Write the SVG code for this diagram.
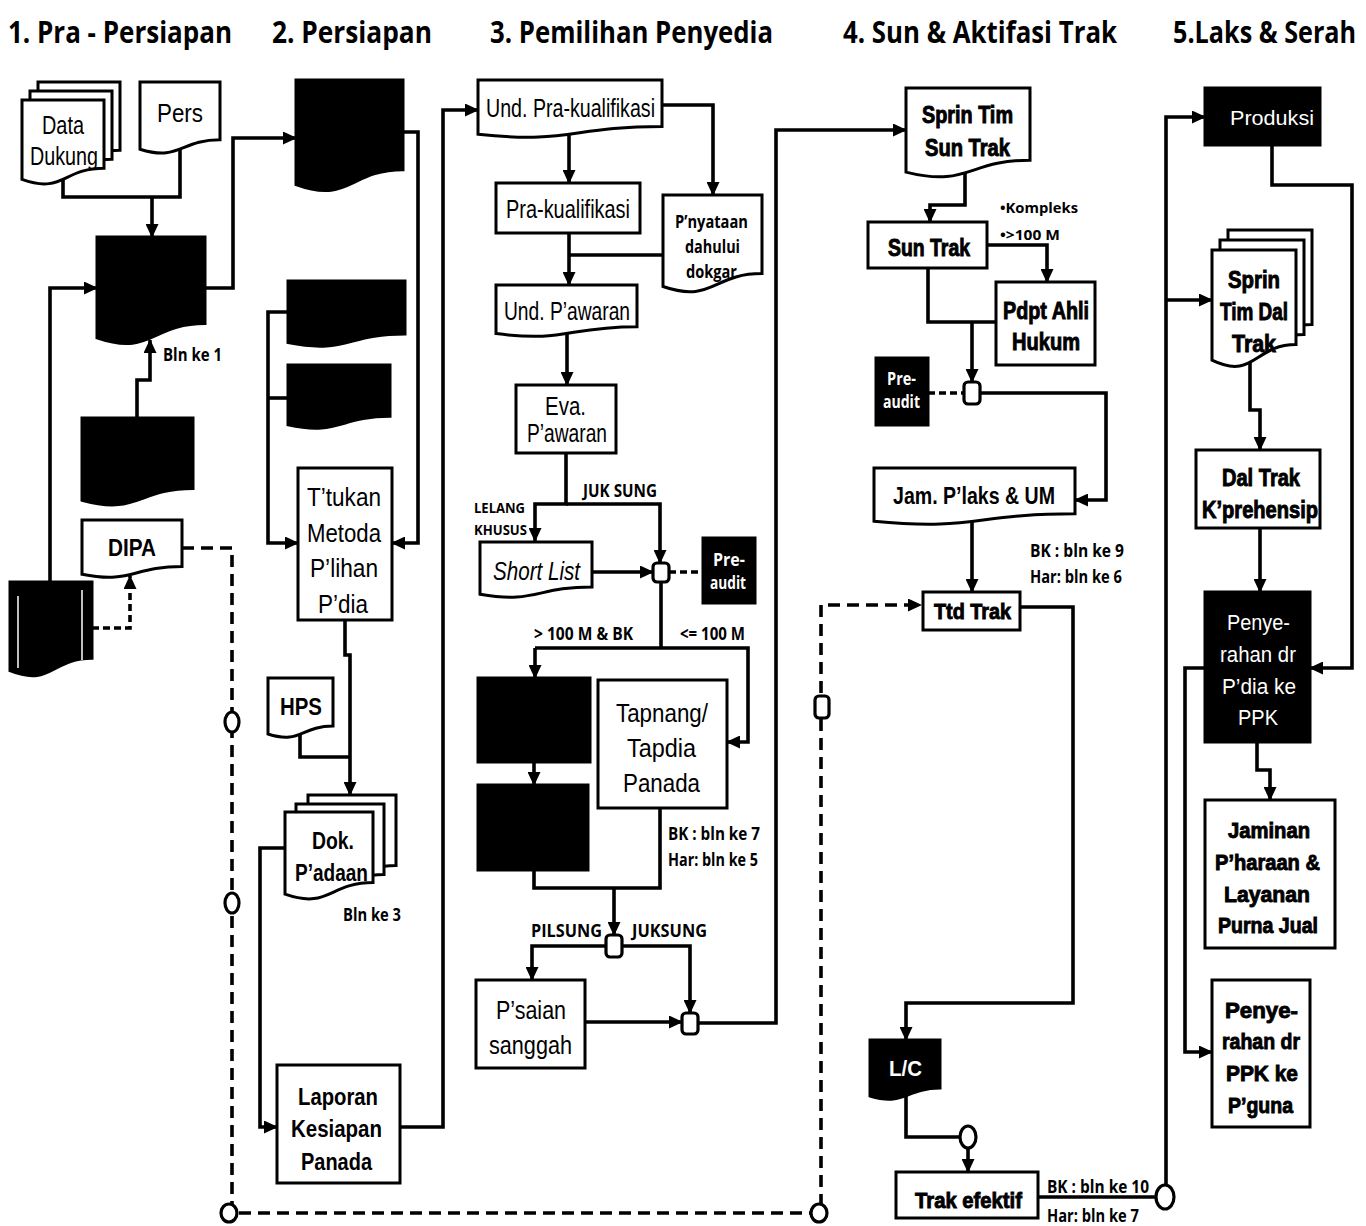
<svg xmlns="http://www.w3.org/2000/svg" width="1366" height="1226" viewBox="0 0 1366 1226">
<style>
  .nd { fill: #fff; stroke: #000; stroke-width: 3; }
  .bk { fill: #000; stroke: #000; stroke-width: 3; }
  .jn { fill: #fff; stroke: #000; stroke-width: 3.2; }
  .ln { fill: none; stroke: #000; stroke-width: 3.6; stroke-linejoin: miter; }
  .ds { fill: none; stroke: #000; stroke-width: 3.6; stroke-dasharray: 12 7; }
  .dsS { fill: none; stroke: #000; stroke-width: 3.6; stroke-dasharray: 7 4; }
  text { fill: #000; }
  .hd { font-family: "Open Sans", "Liberation Sans", sans-serif; font-weight: 700; font-size: 31px; }
  .n { font-family: "Liberation Sans", Arial, sans-serif; font-size: 25px; }
  .b { font-family: "Liberation Sans", Arial, sans-serif; font-weight: bold; font-size: 23px; }
  .h { font-family: "Liberation Sans", Arial, sans-serif; font-weight: bold; font-size: 23px; stroke: #000; stroke-width: 0.9px; }
  .c { font-family: "Open Sans", "Liberation Sans", sans-serif; font-weight: 700; font-size: 17px; }
  .w { fill: #fff; }
</style>
<defs>
  <marker id="ah" markerUnits="userSpaceOnUse" markerWidth="14" markerHeight="13" refX="13" refY="6.5" orient="auto">
    <path d="M0,0 L14,6.5 L0,13 Z" fill="#000"/>
  </marker>
</defs>

<!-- column headings -->
<g id="headings">
  <text class="hd" x="8" y="43" textLength="224" lengthAdjust="spacingAndGlyphs">1. Pra - Persiapan</text>
  <text class="hd" x="272" y="43" textLength="160" lengthAdjust="spacingAndGlyphs">2. Persiapan</text>
  <text class="hd" x="490" y="43" textLength="283" lengthAdjust="spacingAndGlyphs">3. Pemilihan Penyedia</text>
  <text class="hd" x="843" y="43" textLength="274" lengthAdjust="spacingAndGlyphs">4. Sun &amp; Aktifasi Trak</text>
  <text class="hd" transform="translate(1173,43) scale(0.84,1)" style="font-size:30px">5.Laks &amp; Serah</text>
</g>

<!-- connectors -->
<g id="connectors">
  <!-- column 1 -->
  <path class="ln" d="M63,180 V197 H180 V150"/>
  <path class="ln" d="M152,197 V237" marker-end="url(#ah)"/>
  <path class="ln" d="M50,582 V288 H97" marker-end="url(#ah)"/>
  <path class="ln" d="M205,288 H233 V138 H296" marker-end="url(#ah)"/>
  <path class="ln" d="M137,418 V380 H150 V340" marker-end="url(#ah)"/>
  <path class="dsS" d="M92,628 H130 V576" marker-end="url(#ah)"/>
  <path class="ds" d="M182,548 H232 V1213 H821 V605 H921" marker-end="url(#ah)"/>
  <!-- column 2 -->
  <path class="ln" d="M403,132 H418 V543 H392" marker-end="url(#ah)"/>
  <path class="ln" d="M288,312 H268 V543 H298" marker-end="url(#ah)"/>
  <path class="ln" d="M288,398 H268"/>
  <path class="ln" d="M345,620 V655 H350 V795" marker-end="url(#ah)"/>
  <path class="ln" d="M300,734 V757 H350"/>
  <path class="ln" d="M285,848 H260 V1127 H277" marker-end="url(#ah)"/>
  <path class="ln" d="M400,1127 H443 V110 H478" marker-end="url(#ah)"/>
  <!-- column 3 -->
  <path class="ln" d="M569,134 V183" marker-end="url(#ah)"/>
  <path class="ln" d="M662,105 H713 V195" marker-end="url(#ah)"/>
  <path class="ln" d="M569,233 V285" marker-end="url(#ah)"/>
  <path class="ln" d="M663,255 H569"/>
  <path class="ln" d="M567,333 V385" marker-end="url(#ah)"/>
  <path class="ln" d="M566,453 V504 H535 V541" marker-end="url(#ah)"/>
  <path class="ln" d="M566,504 H660 V563" marker-end="url(#ah)"/>
  <path class="ln" d="M592,572 H653" marker-end="url(#ah)"/>
  <path class="dsS" d="M669,572 H703"/>
  <path class="ln" d="M661,582 V648"/>
  <path class="ln" d="M535,648 H748 V742 H727" marker-end="url(#ah)"/>
  <path class="ln" d="M535,648 V678" marker-end="url(#ah)"/>
  <path class="ln" d="M534,762 V785" marker-end="url(#ah)"/>
  <path class="ln" d="M660,808 V888 H534 V870"/>
  <path class="ln" d="M614,888 V935" marker-end="url(#ah)"/>
  <path class="ln" d="M606,946 H532 V980" marker-end="url(#ah)"/>
  <path class="ln" d="M622,946 H690 V1013" marker-end="url(#ah)"/>
  <path class="ln" d="M585,1022 H682" marker-end="url(#ah)"/>
  <path class="ln" d="M698,1023 H776 V130 H906" marker-end="url(#ah)"/>
  <!-- column 4 -->
  <path class="ln" d="M965,172 V205 H930 V222" marker-end="url(#ah)"/>
  <path class="ln" d="M987,245 H1047 V282" marker-end="url(#ah)"/>
  <path class="ln" d="M928,268 V322 H996"/>
  <path class="ln" d="M972,322 V382" marker-end="url(#ah)"/>
  <path class="dsS" d="M928,393 H964"/>
  <path class="ln" d="M980,393 H1106 V500 H1075" marker-end="url(#ah)"/>
  <path class="ln" d="M972,521 V592" marker-end="url(#ah)"/>
  <path class="ln" d="M1020,607 H1073 V1003 H906 V1040" marker-end="url(#ah)"/>
  <path class="ln" d="M906,1096 V1137 H960"/>
  <path class="ln" d="M968,1148 V1172" marker-end="url(#ah)"/>
  <path class="ln" d="M1038,1197 H1157"/>
  <path class="ln" d="M1166,1185 V117 H1205" marker-end="url(#ah)"/>
  <path class="ln" d="M1166,300 H1212" marker-end="url(#ah)"/>
  <!-- column 5 -->
  <path class="ln" d="M1272,145 V185 H1352 V668 H1310" marker-end="url(#ah)"/>
  <path class="ln" d="M1250,360 V410 H1260 V450" marker-end="url(#ah)"/>
  <path class="ln" d="M1260,528 V592" marker-end="url(#ah)"/>
  <path class="ln" d="M1257,742 V770 H1270 V800" marker-end="url(#ah)"/>
  <path class="ln" d="M1205,668 H1185 V1052 H1212" marker-end="url(#ah)"/>
</g>

<!-- connector markers on the dashed run -->
<g id="dash-points">
  <ellipse class="jn" cx="232" cy="722" rx="7" ry="10"/>
  <ellipse class="jn" cx="232" cy="903" rx="7" ry="10"/>
  <ellipse class="jn" cx="229" cy="1213" rx="8" ry="9"/>
  <ellipse class="jn" cx="819" cy="1213" rx="8" ry="9"/>
  <rect class="jn" x="815" y="696" width="14" height="22" rx="4"/>
</g>

<!-- column 1 -->
<g id="data-dukung">
  <path class="nd" d="M38,82 H120 V150.2 C79,150.2 79,176.1 38,161.4 Z"/>
  <path class="nd" d="M30,91 H112 V159.2 C71,159.2 71,185.1 30,170.4 Z"/>
  <path class="nd" d="M22,100 H104 V168.2 C63,168.2 63,194.1 22,179.4 Z"/>
  <text class="n" x="42" y="134" textLength="42" lengthAdjust="spacingAndGlyphs">Data</text>
  <text class="n" x="30" y="165" textLength="68" lengthAdjust="spacingAndGlyphs">Dukung</text>
</g>
<g id="pers">
  <path class="nd" d="M140,82 H220 V139.7 C180,139.7 180,161.7 140,149.2 Z"/>
  <text class="n" x="157" y="122" textLength="46" lengthAdjust="spacingAndGlyphs">Pers</text>
</g>
<g id="doc-a1">
  <path class="bk" d="M97,237 H205 V323.6 C151,323.6 151,356.6 97,337.9 Z"/>
</g>
<text class="c" x="163" y="361" textLength="59" lengthAdjust="spacingAndGlyphs">Bln ke 1</text>
<g id="doc-a2">
  <path class="bk" d="M82,418 H193 V488.6 C137.5,488.6 137.5,515.5 82,500.2 Z"/>
</g>
<g id="dipa">
  <path class="nd" d="M82,520 H182 V566.5 C132,566.5 132,584.2 82,574.2 Z"/>
  <text class="b" x="108" y="556" textLength="48" lengthAdjust="spacingAndGlyphs">DIPA</text>
</g>
<g id="doc-a3">
  <path class="bk" d="M10,582 H92 V658.2 C51,658.2 51,687.2 10,670.7 Z"/>
  <path d="M18,596 V668 M82,590 V660" stroke="#fff" stroke-width="1.5" fill="none"/>
</g>

<!-- column 2 -->
<g id="doc-b1">
  <path class="bk" d="M296,80 H403 V169.8 C349.5,169.8 349.5,204 296,184.6 Z"/>
</g>
<g id="doc-b2">
  <path class="bk" d="M288,281 H405 V333.9 C346.5,333.9 346.5,354.1 288,342.6 Z"/>
</g>
<g id="doc-b3">
  <path class="bk" d="M288,365 H390 V416.3 C339,416.3 339,435.9 288,424.8 Z"/>
</g>
<g id="ttukan">
  <rect class="nd" x="298" y="468" width="94" height="152"/>
  <text class="n" x="307" y="506" textLength="74" lengthAdjust="spacingAndGlyphs">T’tukan</text>
  <text class="n" x="307" y="542" textLength="74" lengthAdjust="spacingAndGlyphs">Metoda</text>
  <text class="n" x="310" y="577" textLength="68" lengthAdjust="spacingAndGlyphs">P’lihan</text>
  <text class="n" x="318" y="613" textLength="50" lengthAdjust="spacingAndGlyphs">P’dia</text>
</g>
<g id="hps">
  <path class="nd" d="M268,678 H333 V726.1 C300.5,726.1 300.5,744.5 268,734 Z"/>
  <text class="b" x="280" y="715" textLength="42" lengthAdjust="spacingAndGlyphs">HPS</text>
</g>
<g id="dok-padaan">
  <path class="nd" d="M308,795 H396 V865.6 C352,865.6 352,892.5 308,877.2 Z"/>
  <path class="nd" d="M296,804 H384 V874.6 C340,874.6 340,901.5 296,886.2 Z"/>
  <path class="nd" d="M285,812 H373 V882.6 C329,882.6 329,909.5 285,894.2 Z"/>
  <text class="b" x="312" y="849" textLength="42" lengthAdjust="spacingAndGlyphs">Dok.</text>
  <text class="b" x="295" y="881" textLength="73" lengthAdjust="spacingAndGlyphs">P’adaan</text>
</g>
<text class="c" x="343" y="921" textLength="58" lengthAdjust="spacingAndGlyphs">Bln ke 3</text>
<g id="laporan">
  <rect class="nd" x="277" y="1065" width="123" height="118"/>
  <text class="b" x="298" y="1105" textLength="80" lengthAdjust="spacingAndGlyphs">Laporan</text>
  <text class="b" x="291" y="1137" textLength="91" lengthAdjust="spacingAndGlyphs">Kesiapan</text>
  <text class="b" x="301" y="1170" textLength="71" lengthAdjust="spacingAndGlyphs">Panada</text>
</g>

<!-- column 3 -->
<g id="und-prakualifikasi">
  <path class="nd" d="M478,80 H662 V126.5 C570,126.5 570,144.2 478,134.2 Z"/>
  <text class="n" x="486" y="117" textLength="169" lengthAdjust="spacingAndGlyphs">Und. Pra-kualifikasi</text>
</g>
<g id="prakualifikasi">
  <rect class="nd" x="496" y="183" width="144" height="50"/>
  <text class="n" x="506" y="218" textLength="124" lengthAdjust="spacingAndGlyphs">Pra-kualifikasi</text>
</g>
<g id="pnyataan">
  <path class="nd" d="M663,195 H762 V273.6 C712.5,273.6 712.5,303.5 663,286.5 Z"/>
  <text class="c" x="675" y="228" textLength="73" lengthAdjust="spacingAndGlyphs">P’nyataan</text>
  <text class="c" x="685" y="253" textLength="55" lengthAdjust="spacingAndGlyphs">dahului</text>
  <text class="c" x="686" y="278" textLength="51" lengthAdjust="spacingAndGlyphs">dokgar</text>
</g>
<g id="und-pawaran">
  <path class="nd" d="M496,285 H637 V326.7 C566.5,326.7 566.5,342.6 496,333.6 Z"/>
  <text class="n" x="504" y="320" textLength="126" lengthAdjust="spacingAndGlyphs">Und. P’awaran</text>
</g>
<g id="eva-pawaran">
  <rect class="nd" x="516" y="385" width="100" height="68"/>
  <text class="n" x="545" y="415" textLength="41" lengthAdjust="spacingAndGlyphs">Eva.</text>
  <text class="n" x="527" y="442" textLength="80" lengthAdjust="spacingAndGlyphs">P’awaran</text>
</g>
<text class="c" x="474" y="513" style="font-size:14px" textLength="51" lengthAdjust="spacingAndGlyphs">LELANG</text>
<text class="c" x="474" y="535" style="font-size:14px" textLength="53" lengthAdjust="spacingAndGlyphs">KHUSUS</text>
<text class="c" x="583" y="497" textLength="74" lengthAdjust="spacingAndGlyphs">JUK SUNG</text>
<g id="short-list">
  <path class="nd" d="M480,542 H592 V586.9 C536,586.9 536,604 480,594.3 Z"/>
  <text class="n" x="493" y="580" font-style="italic" textLength="87" lengthAdjust="spacingAndGlyphs">Short List</text>
</g>
<g id="junction-1">
  <rect class="jn" x="653" y="563" width="16" height="19" rx="4"/>
</g>
<g id="preaudit-1">
  <rect class="bk" x="703" y="538" width="52" height="65"/>
  <text class="c w" x="713" y="566" textLength="32" lengthAdjust="spacingAndGlyphs">Pre-</text>
  <text class="c w" x="710" y="589" textLength="36" lengthAdjust="spacingAndGlyphs">audit</text>
</g>
<text class="c" x="534" y="640" textLength="99" lengthAdjust="spacingAndGlyphs">&gt; 100 M &amp; BK</text>
<text class="c" x="680" y="640" textLength="65" lengthAdjust="spacingAndGlyphs">&lt;= 100 M</text>
<g id="box-c1">
  <rect class="bk" x="478" y="678" width="112" height="84"/>
</g>
<g id="box-c2">
  <rect class="bk" x="478" y="785" width="110" height="85"/>
</g>
<g id="tapnang">
  <rect class="nd" x="598" y="680" width="129" height="128"/>
  <text class="n" x="616" y="722" textLength="92" lengthAdjust="spacingAndGlyphs">Tapnang/</text>
  <text class="n" x="627" y="757" textLength="69" lengthAdjust="spacingAndGlyphs">Tapdia</text>
  <text class="n" x="623" y="792" textLength="77" lengthAdjust="spacingAndGlyphs">Panada</text>
</g>
<text class="c" x="668" y="840" textLength="92" lengthAdjust="spacingAndGlyphs">BK  : bln ke 7</text>
<text class="c" x="668" y="866" textLength="90" lengthAdjust="spacingAndGlyphs">Har: bln ke 5</text>
<text class="c" x="531" y="937" textLength="71" lengthAdjust="spacingAndGlyphs">PILSUNG</text>
<text class="c" x="632" y="937" textLength="75" lengthAdjust="spacingAndGlyphs">JUKSUNG</text>
<g id="junction-2">
  <rect class="jn" x="606" y="935" width="16" height="22" rx="4"/>
</g>
<g id="psaian-sanggah">
  <rect class="nd" x="476" y="980" width="109" height="88"/>
  <text class="n" x="496" y="1019" textLength="70" lengthAdjust="spacingAndGlyphs">P’saian</text>
  <text class="n" x="489" y="1054" textLength="83" lengthAdjust="spacingAndGlyphs">sanggah</text>
</g>
<g id="junction-3">
  <rect class="jn" x="682" y="1013" width="16" height="21" rx="4"/>
</g>

<!-- column 4 -->
<g id="sprin-tim-sun-trak">
  <path class="nd" d="M906,88 H1030 V160.2 C968,160.2 968,187.7 906,172.1 Z"/>
  <text class="h" x="922" y="123" textLength="91" lengthAdjust="spacingAndGlyphs">Sprin Tim</text>
  <text class="h" x="925" y="156" textLength="85" lengthAdjust="spacingAndGlyphs">Sun Trak</text>
</g>
<text class="c" x="1000" y="213" style="font-size:15px" textLength="78" lengthAdjust="spacingAndGlyphs">•Kompleks</text>
<text class="c" x="1000" y="240" style="font-size:15px" textLength="60" lengthAdjust="spacingAndGlyphs">•&gt;100 M</text>
<g id="sun-trak">
  <rect class="nd" x="868" y="222" width="119" height="46"/>
  <text class="h" x="888" y="256" textLength="82" lengthAdjust="spacingAndGlyphs">Sun Trak</text>
</g>
<g id="pdpt-ahli-hukum">
  <rect class="nd" x="996" y="282" width="99" height="83"/>
  <text class="h" x="1003" y="319" textLength="86" lengthAdjust="spacingAndGlyphs">Pdpt Ahli</text>
  <text class="h" x="1012" y="350" textLength="68" lengthAdjust="spacingAndGlyphs">Hukum</text>
</g>
<g id="preaudit-2">
  <rect class="bk" x="876" y="358" width="52" height="67"/>
  <text class="c w" x="887" y="385" textLength="29" lengthAdjust="spacingAndGlyphs">Pre-</text>
  <text class="c w" x="883" y="408" textLength="37" lengthAdjust="spacingAndGlyphs">audit</text>
</g>
<g id="junction-4">
  <rect class="jn" x="964" y="382" width="16" height="22" rx="4"/>
</g>
<g id="jam-plaks-um">
  <path class="nd" d="M874,468 H1075 V513.7 C974.5,513.7 974.5,531.1 874,521.2 Z"/>
  <text class="n" x="893" y="504" font-weight="bold" style="font-size:23px" textLength="162" lengthAdjust="spacingAndGlyphs">Jam. P’laks &amp; UM</text>
</g>
<text class="c" x="1030" y="557" textLength="94" lengthAdjust="spacingAndGlyphs">BK  : bln ke 9</text>
<text class="c" x="1030" y="583" textLength="92" lengthAdjust="spacingAndGlyphs">Har: bln ke 6</text>
<g id="ttd-trak">
  <rect class="nd" x="923" y="592" width="97" height="38"/>
  <text class="h" x="934" y="619" style="font-size:22px" textLength="77" lengthAdjust="spacingAndGlyphs">Ttd Trak</text>
</g>
<g id="lc">
  <path class="bk" d="M870,1040 H940 V1088.1 C905,1088.1 905,1106.5 870,1096 Z"/>
  <text class="b w" x="889" y="1076" style="font-size:22px" textLength="33" lengthAdjust="spacingAndGlyphs">L/C</text>
</g>
<g id="junction-5">
  <ellipse class="jn" cx="968" cy="1137" rx="8" ry="11"/>
</g>
<g id="trak-efektif">
  <rect class="nd" x="896" y="1172" width="142" height="46"/>
  <text class="h" x="915" y="1208" style="font-size:22px" textLength="107" lengthAdjust="spacingAndGlyphs">Trak efektif</text>
</g>
<text class="c" x="1047" y="1193" textLength="102" lengthAdjust="spacingAndGlyphs">BK  : bln ke 10</text>
<text class="c" x="1047" y="1222" textLength="92" lengthAdjust="spacingAndGlyphs">Har: bln ke 7</text>
<g id="junction-6">
  <ellipse class="jn" cx="1165" cy="1197" rx="9" ry="12"/>
</g>

<!-- column 5 -->
<g id="produksi">
  <rect class="bk" x="1205" y="88" width="115" height="57"/>
  <text class="n w" x="1230" y="125" style="font-size:21px" textLength="84" lengthAdjust="spacingAndGlyphs">Produksi</text>
</g>
<g id="sprin-tim-dal-trak">
  <path class="nd" d="M1228,230 H1312 V324.6 C1270,324.6 1270,360.7 1228,340.2 Z"/>
  <path class="nd" d="M1220,240 H1304 V334.6 C1262,334.6 1262,370.7 1220,350.2 Z"/>
  <path class="nd" d="M1212,250 H1296 V344.6 C1254,344.6 1254,380.7 1212,360.2 Z"/>
  <text class="h" x="1228" y="288" textLength="52" lengthAdjust="spacingAndGlyphs">Sprin</text>
  <text class="h" x="1220" y="320" textLength="68" lengthAdjust="spacingAndGlyphs">Tim Dal</text>
  <text class="h" x="1232" y="352" textLength="44" lengthAdjust="spacingAndGlyphs">Trak</text>
</g>
<g id="dal-trak">
  <rect class="nd" x="1196" y="450" width="124" height="78"/>
  <text class="h" x="1222" y="486" textLength="78" lengthAdjust="spacingAndGlyphs">Dal Trak</text>
  <text class="h" x="1202" y="518" textLength="116" lengthAdjust="spacingAndGlyphs">K’prehensip</text>
</g>
<g id="penyerahan-pdia">
  <rect class="bk" x="1205" y="592" width="105" height="150"/>
  <text class="n w" x="1227" y="630" style="font-size:22px" textLength="63" lengthAdjust="spacingAndGlyphs">Penye-</text>
  <text class="n w" x="1220" y="662" style="font-size:22px" textLength="76" lengthAdjust="spacingAndGlyphs">rahan dr</text>
  <text class="n w" x="1222" y="694" style="font-size:22px" textLength="74" lengthAdjust="spacingAndGlyphs">P’dia ke</text>
  <text class="n w" x="1238" y="725" style="font-size:22px" textLength="40" lengthAdjust="spacingAndGlyphs">PPK</text>
</g>
<g id="jaminan">
  <rect class="nd" x="1205" y="800" width="130" height="148"/>
  <text class="h" x="1228" y="838" style="font-size:22px" textLength="82" lengthAdjust="spacingAndGlyphs">Jaminan</text>
  <text class="h" x="1215" y="870" style="font-size:22px" textLength="105" lengthAdjust="spacingAndGlyphs">P’haraan &amp;</text>
  <text class="h" x="1224" y="902" style="font-size:22px" textLength="86" lengthAdjust="spacingAndGlyphs">Layanan</text>
  <text class="h" x="1218" y="933" style="font-size:22px" textLength="100" lengthAdjust="spacingAndGlyphs">Purna Jual</text>
</g>
<g id="penyerahan-ppk">
  <rect class="nd" x="1212" y="980" width="98" height="147"/>
  <text class="h" x="1225" y="1018" style="font-size:22px" textLength="73" lengthAdjust="spacingAndGlyphs">Penye-</text>
  <text class="h" x="1222" y="1049" style="font-size:22px" textLength="78" lengthAdjust="spacingAndGlyphs">rahan dr</text>
  <text class="h" x="1226" y="1081" style="font-size:22px" textLength="72" lengthAdjust="spacingAndGlyphs">PPK ke</text>
  <text class="h" x="1228" y="1113" style="font-size:22px" textLength="65" lengthAdjust="spacingAndGlyphs">P’guna</text>
</g>
</svg>
